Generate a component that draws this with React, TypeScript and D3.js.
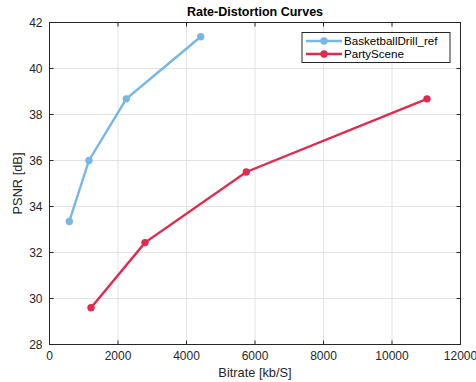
import React from "react";
import * as d3 from "d3";

const seriesNames = ["BasketballDrill_ref", "PartyScene"];
const seriesColors = ["#78b6e6", "#e02a4f"];
const basketRate = [578, 1153, 2243, 4415];
const basketPsnr = [33.35, 36.0, 38.68, 41.38];
const partyRate = [1212, 2788, 5746, 11022];
const partyPsnr = [29.6, 32.43, 35.5, 38.68];
const xTicks = [0, 2000, 4000, 6000, 8000, 10000, 12000];
const yTicks = [28, 30, 32, 34, 36, 38, 40, 42];

const W = 476;
const H = 382;
const left = 49.5;
const right = 460.5;
const top = 22.5;
const bottom = 344.5;

export default function App() {
  const x = d3.scaleLinear().domain([0, 12000]).range([left, right]);
  const y = d3.scaleLinear().domain([28, 42]).range([bottom, top]);
  const line = d3
    .line<[number, number]>()
    .x((d) => x(d[0]))
    .y((d) => y(d[1]));

  const series = [
    { name: seriesNames[0], color: seriesColors[0], pts: basketRate.map((r, i) => [r, basketPsnr[i]] as [number, number]) },
    { name: seriesNames[1], color: seriesColors[1], pts: partyRate.map((r, i) => [r, partyPsnr[i]] as [number, number]) },
  ];

  const font = "'Liberation Sans', Arial, sans-serif";
  const tick = 4;

  return (
    <svg
      width={W}
      height={H}
      style={{ position: "absolute", left: 0, top: 0, background: "#fff" }}
      fontFamily={font}
    >
      {/* grid */}
      {xTicks.map((t) => (
        <line key={"gx" + t} x1={x(t)} x2={x(t)} y1={top} y2={bottom} stroke="#e3e3e3" strokeWidth={1} />
      ))}
      {yTicks.map((t) => (
        <line key={"gy" + t} x1={left} x2={right} y1={y(t)} y2={y(t)} stroke="#e3e3e3" strokeWidth={1} />
      ))}

      {/* box */}
      <rect x={left} y={top} width={right - left} height={bottom - top} fill="none" stroke="#262626" strokeWidth={1} />

      {/* ticks inside, on all sides */}
      {xTicks.map((t) => (
        <g key={"tx" + t} stroke="#262626" strokeWidth={1}>
          <line x1={x(t)} x2={x(t)} y1={bottom} y2={bottom - tick} />
          <line x1={x(t)} x2={x(t)} y1={top} y2={top + tick} />
        </g>
      ))}
      {yTicks.map((t) => (
        <g key={"ty" + t} stroke="#262626" strokeWidth={1}>
          <line x1={left} x2={left + tick} y1={y(t)} y2={y(t)} />
          <line x1={right} x2={right - tick} y1={y(t)} y2={y(t)} />
        </g>
      ))}

      {/* tick labels */}
      {xTicks.map((t) => (
        <text key={"lx" + t} x={x(t)} y={bottom + 15} fontSize={12} textAnchor="middle" fill="#262626">
          {t}
        </text>
      ))}
      {yTicks.map((t) => (
        <text key={"ly" + t} x={left - 7} y={y(t) + 4} fontSize={12} textAnchor="end" fill="#262626">
          {t}
        </text>
      ))}

      {/* series */}
      {series.map((s) => (
        <g key={s.name}>
          <path d={line(s.pts) || ""} fill="none" stroke={s.color} strokeWidth={2.4} />
          {s.pts.map((p, i) => (
            <circle key={i} cx={x(p[0])} cy={y(p[1])} r={3.7} fill={s.color} />
          ))}
        </g>
      ))}

      {/* legend */}
      <g transform="translate(302,32.5)">
        <rect x={0} y={0} width={148} height={30} fill="#fff" stroke="#262626" strokeWidth={1} />
        {series.map((s, i) => (
          <g key={s.name} transform={`translate(0,${8.5 + i * 13})`}>
            <line x1={4} x2={40} y1={0} y2={0} stroke={s.color} strokeWidth={2.4} />
            <circle cx={22} cy={0} r={3.7} fill={s.color} />
            <text x={42} y={4} fontSize={11.6} fill="#000">
              {s.name}
            </text>
          </g>
        ))}
      </g>

      {/* title and axis labels */}
      <text x={(left + right) / 2} y={16} fontSize={12.5} fontWeight="bold" textAnchor="middle" fill="#000">
        Rate-Distortion Curves
      </text>
      <text x={(left + right) / 2} y={377} fontSize={12.8} textAnchor="middle" fill="#262626">
        Bitrate [kb/S]
      </text>
      <text
        transform={`translate(22,${(top + bottom) / 2}) rotate(-90)`}
        fontSize={12.8}
        textAnchor="middle"
        fill="#262626"
      >
        PSNR [dB]
      </text>
    </svg>
  );
}
